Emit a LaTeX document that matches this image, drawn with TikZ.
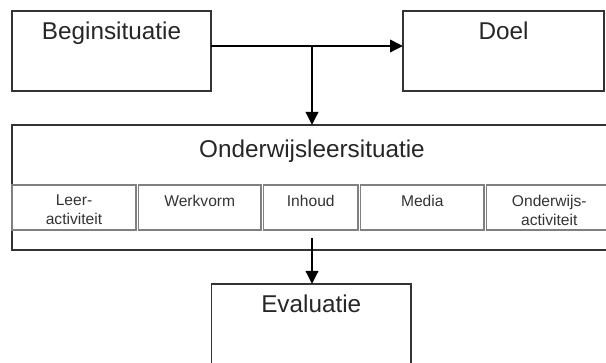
\documentclass[tikz,border=0pt]{standalone}
\usepackage{fontspec}
\setmainfont{Liberation Sans}
\usetikzlibrary{positioning,arrows.meta}
\tikzset{mainbox/.style={draw=black!80, line width=1.5pt, inner sep=0pt, outer sep=0pt},
cellbox/.style={draw=black!50, line width=1.1pt, minimum height=45pt, inner sep=0pt, outer sep=0pt},
%titles sit at the top of their box
bigtext/.style={font=\fontsize{24.3}{28}\selectfont, text=black!85, inner sep=0pt, anchor=north},
smalltext/.style={font=\fontsize{15.6}{19}\selectfont, text=black!80, align=center, inner sep=0pt, anchor=north},
arr/.style={draw=black, line width=1.9pt, -{Triangle[length=13pt,width=12.5pt]}}}

\begin{document}
\begin{tikzpicture}[x=1pt,y=-1pt]
		\useasboundingbox (0,0) rectangle (606,363);
		\clip (0,0) rectangle (606,363);

		\node[mainbox, minimum width=199pt, minimum height=80pt] (begin) at (111.5,51) {};
		\node[mainbox, minimum width=201pt, minimum height=80pt] (doel) at (503.5,51) {};
		\node[mainbox, minimum width=600pt, minimum height=125pt] (ols) at (312,187.5) {};
		\node[mainbox, minimum width=199.5pt, minimum height=100pt] (eval) at (311.25,334) {};

		\node[bigtext] (begintxt) at ([yshift=-10.5pt]begin.north) {Beginsituatie};
		\node[bigtext] (doeltxt) at ([yshift=-10.5pt]doel.north) {Doel};
		\node[bigtext] (olstxt) at ([yshift=-14.5pt]ols.north) {Onderwijsleersituatie};
		\node[bigtext] (evaltxt) at ([yshift=-11pt]eval.north) {Evaluatie};

		\node[cellbox, minimum width=124pt, anchor=west] (leer) at (12,207.5) {};
		\node[cellbox, minimum width=122.5pt, right=2.5pt of leer] (werk) {};
		\node[cellbox, minimum width=94.5pt, right=2.5pt of werk] (inhoud) {};
		\node[cellbox, minimum width=123.5pt, right=2.5pt of inhoud] (media) {};
		\node[cellbox, minimum width=125.5pt, right=2.5pt of media] (onderw) {};

		\node[smalltext] (leertxt) at ([yshift=-9.5pt]leer.north) {Leer-\\activiteit};
		\node[smalltext] (werktxt) at ([yshift=-9.5pt]werk.north) {Werkvorm};
		\node[smalltext] (inhoudtxt) at ([yshift=-9.5pt]inhoud.north) {Inhoud};
		\node[smalltext] (mediatxt) at ([yshift=-9.5pt]media.north) {Media};
		\node[smalltext] (onderwtxt) at ([yshift=-9.5pt]onderw.north) {Onderwijs-\\activiteit};

		\coordinate (split) at ([yshift=5pt]begin.east -| ols.north);
		\coordinate (tail) at ([yshift=12pt]ols.south);

		\draw[arr] ([yshift=5pt]begin.east) -- ([yshift=5pt]doel.west);
		\draw[arr] (split) -- (ols.north);
		\draw[arr] (tail) -- (tail |- eval.north);

	\end{tikzpicture}
\end{document}
